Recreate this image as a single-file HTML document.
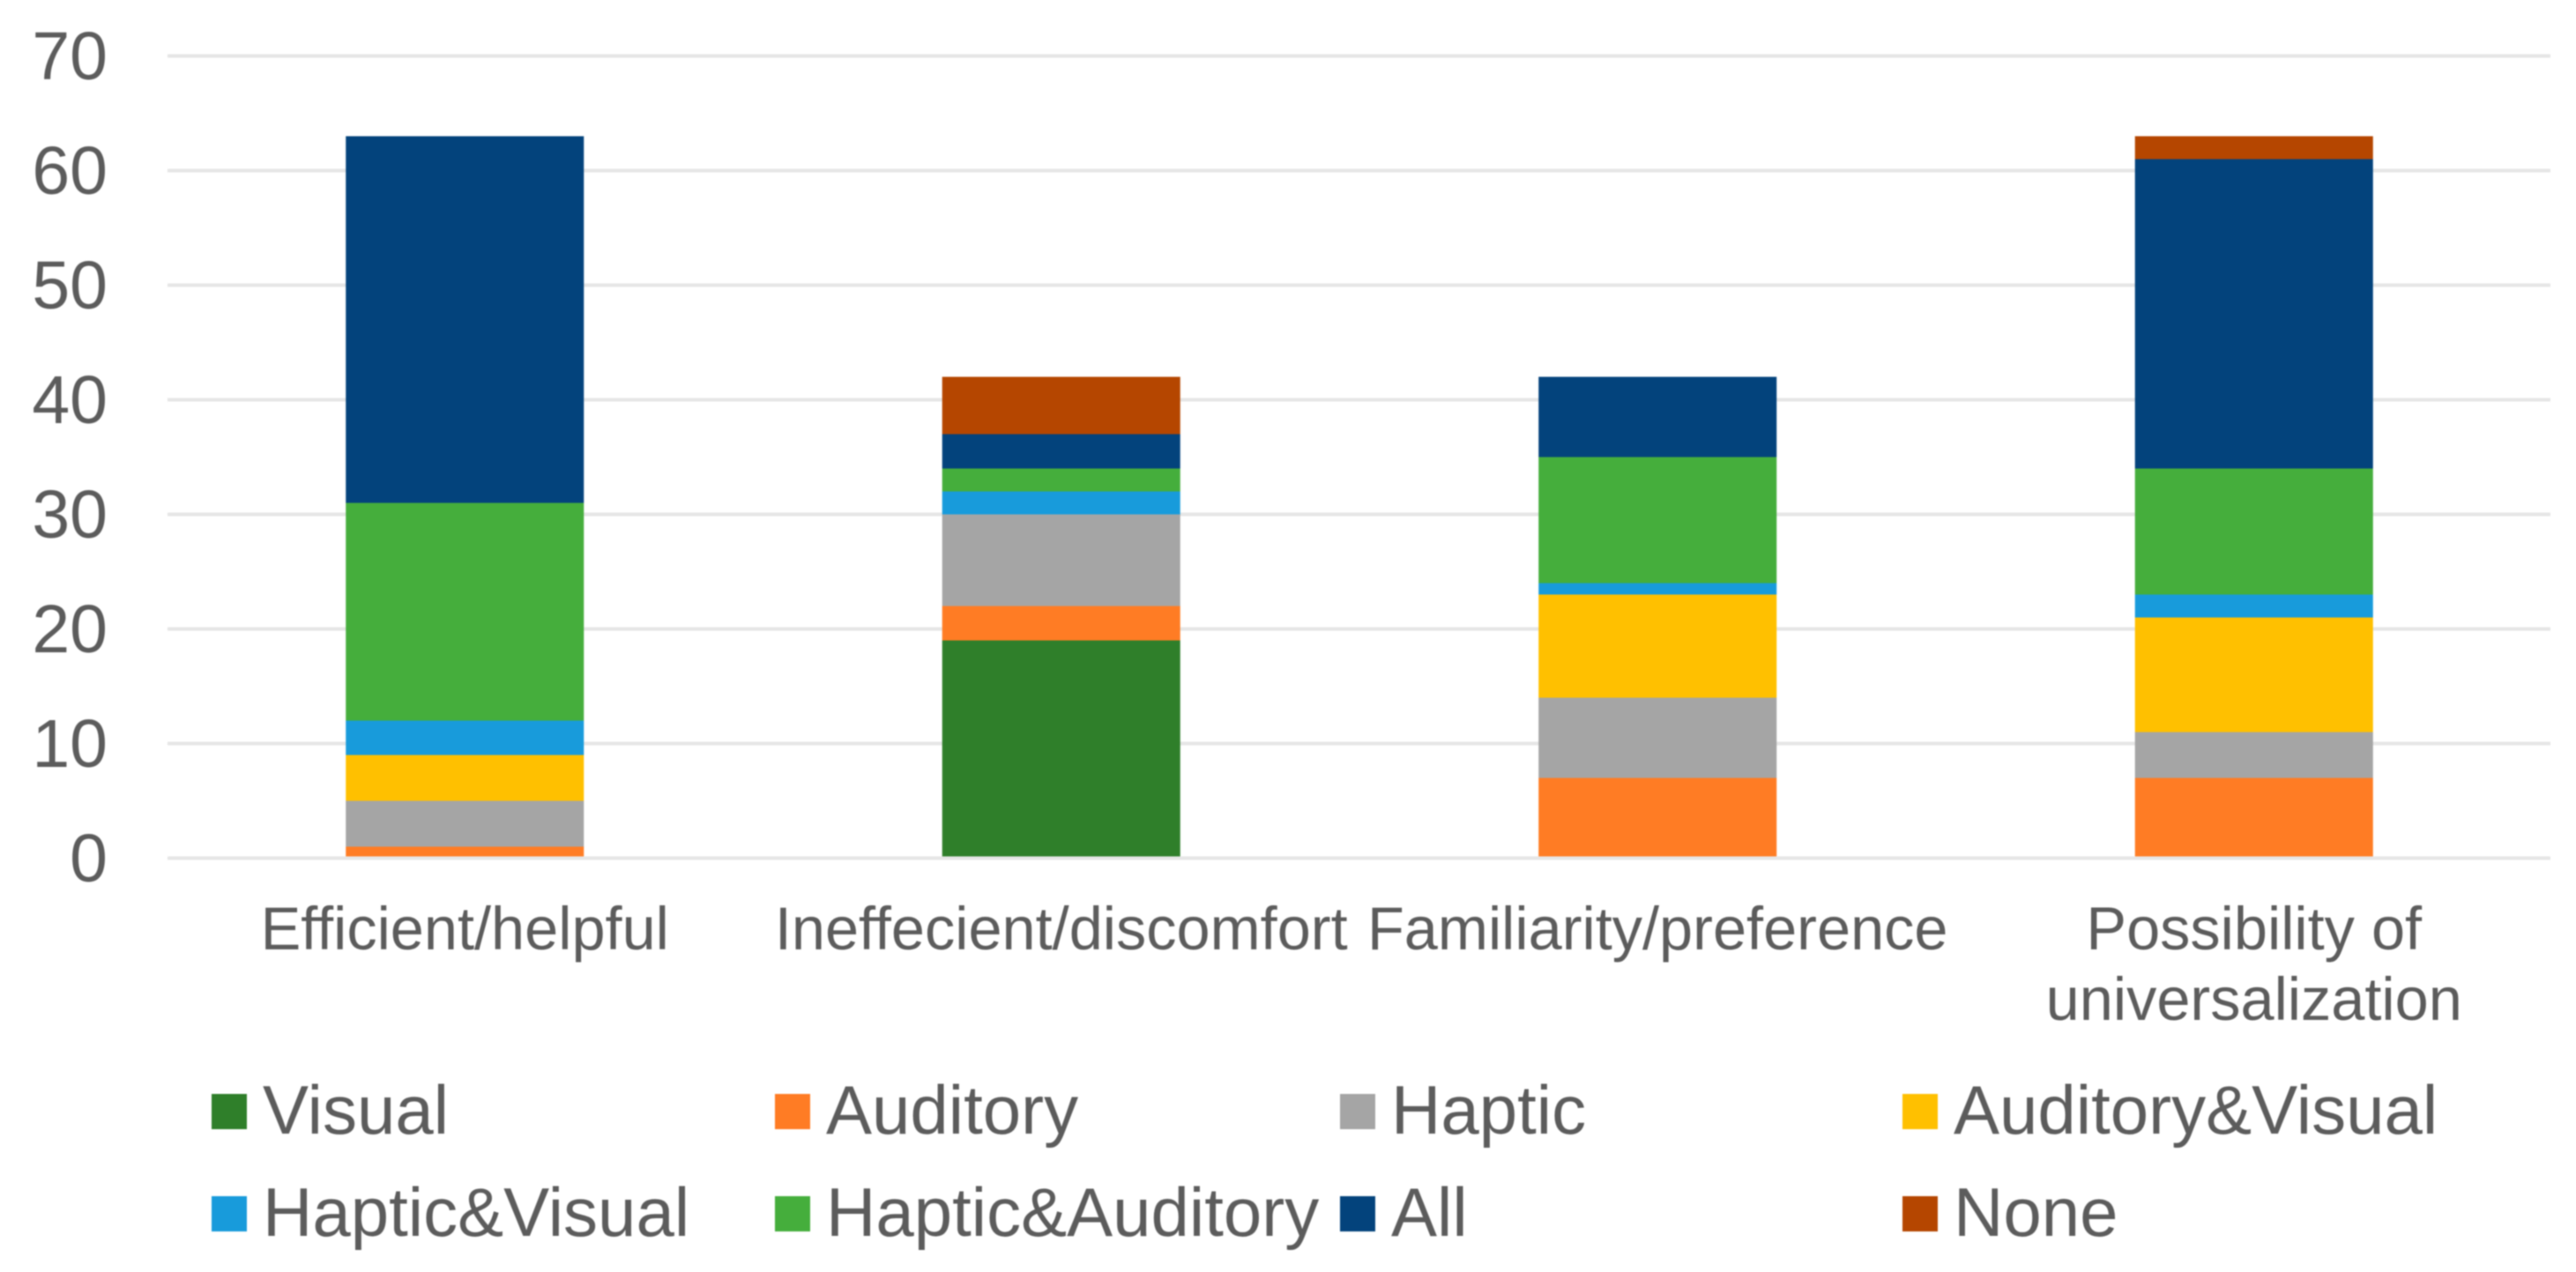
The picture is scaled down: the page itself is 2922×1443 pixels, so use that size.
<!DOCTYPE html>
<html lang="en">
<head>
<meta charset="utf-8">
<title>Stacked bar chart of feedback modalities</title>
<style>
  html, body { margin: 0; padding: 0; background: #fff; }
  body { width: 2922px; height: 1443px; overflow: hidden; }
  #chart { display: block; position: absolute; left: 0; top: 0; filter: blur(0.7px); }
  text { font-family: "Liberation Sans", Arial, sans-serif; fill: #5c5c5c; }
</style>
</head>
<body>
<svg id="chart" xmlns="http://www.w3.org/2000/svg" width="2922" height="1443" viewBox="0 0 2922 1443">
  <g id="grid"></g>
  <g id="yticks"></g>
  <g id="bars"></g>
  <g id="baseline"></g>
  <g id="xlabels"></g>
  <g id="legend"></g>
</svg>
<script>
const categories = [["Efficient/helpful"], ["Ineffecient/discomfort"], ["Familiarity/preference"], ["Possibility of", "universalization"]];
const seriesNames = ["Visual", "Auditory", "Haptic", "Auditory&Visual", "Haptic&Visual", "Haptic&Auditory", "All", "None"];
const visual = [0, 19, 0, 0];
const auditory = [1, 3, 7, 7];
const haptic = [4, 8, 7, 4];
const auditoryVisual = [4, 0, 9, 10];
const hapticVisual = [3, 2, 1, 2];
const hapticAuditory = [19, 2, 11, 11];
const all = [32, 3, 7, 27];
const none = [0, 5, 0, 2];
const yTicks = [0, 10, 20, 30, 40, 50, 60, 70];

const seriesValues = [visual, auditory, haptic, auditoryVisual, hapticVisual, hapticAuditory, all, none];
const colors = ["#2f7f2a", "#ff7c24", "#a5a5a5", "#ffc000", "#189bdb", "#45ae3c", "#03437c", "#b54600"];

const NS = "http://www.w3.org/2000/svg";
const plotLeft = 189, plotRight = 2895, plotTop = 63.5, plotBottom = 973.5, yMax = 70;
const gridLeft = 190, gridRight = 2893;
const band = (plotRight - plotLeft) / categories.length;
const barWidth = 270;
function yScale(v) { return plotBottom - (v / yMax) * (plotBottom - plotTop); }
function xCenter(i) { return plotLeft + band * (i + 0.5); }
function make(tag, attrs, parent) {
  const el = document.createElementNS(NS, tag);
  for (const k in attrs) el.setAttribute(k, attrs[k]);
  parent.appendChild(el);
  return el;
}
function slug(s) { return s.toLowerCase().replace(/[^a-z0-9]+/g, '-').replace(/^-|-$/g, ''); }

const gridG = document.getElementById('grid');
const baseG = document.getElementById('baseline');
const yG = document.getElementById('yticks');
yTicks.forEach(function (t) {
  const parent = t === 0 ? baseG : gridG;
  const line = make('rect', { x: gridLeft, y: yScale(t) - 2, width: gridRight - gridLeft, height: 4, fill: '#e6e6e6' }, parent);
  
  
  const lab = make('text', { x: 122, y: yScale(t) + 26.5, 'text-anchor': 'end', 'font-size': 77 }, yG);
  
  
  lab.textContent = String(t);
});

const barsG = document.getElementById('bars');
categories.forEach(function (cat, i) {
  let cum = 0;
  seriesValues.forEach(function (vals, s) {
    const v = vals[i];
    if (v > 0) {
      const top = yScale(cum + v), bottom = yScale(cum);
      const r = make('rect', { x: xCenter(i) - barWidth / 2, y: top, width: barWidth, height: bottom - top, fill: colors[s] }, barsG);
      
      
    }
    cum += v;
  });
});

const xG = document.getElementById('xlabels');
categories.forEach(function (cat, i) {
  cat.forEach(function (line, j) {
    const t = make('text', { x: xCenter(i), y: 1077 + j * 80, 'text-anchor': 'middle', 'font-size': 68.5 }, xG);
    
    
    t.textContent = line;
  });
});

const legendG = document.getElementById('legend');
const legendCols = [240, 879, 1520, 2158];
const legendRows = [1241, 1357];
seriesNames.forEach(function (name, s) {
  const col = s % 4, row = Math.floor(s / 4);
  const g = make('g', {}, legendG);
  
  
  const sw = make('rect', { x: legendCols[col], y: legendRows[row], width: 40, height: 40, fill: colors[s] }, g);
  
  
  const t = make('text', { x: legendCols[col] + 58, y: legendRows[row] + 45, 'font-size': 78 }, g);
  
  
  t.textContent = name;
});
</script>
</body>
</html>
